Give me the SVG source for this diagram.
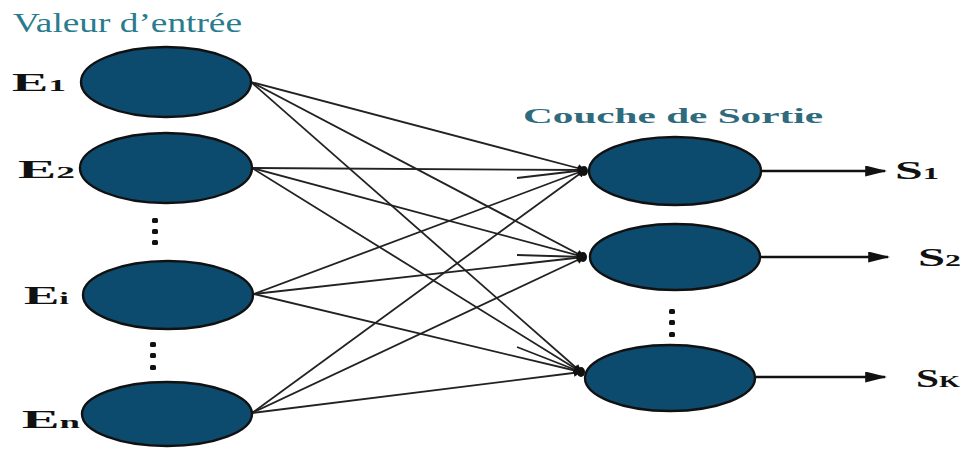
<svg xmlns="http://www.w3.org/2000/svg" width="979" height="452" viewBox="0 0 979 452">
  <style>
    .neuron { fill: #0d4b6e; stroke: #111; stroke-width: 2.4; }
    .link { stroke: #222; stroke-width: 1.8; fill: none; marker-end: url(#tip); }
    .out { stroke: #111; stroke-width: 2.4; fill: none; marker-end: url(#arrow); }
    .lbl { font-family: "Liberation Serif", "Times New Roman", serif; font-weight: bold; fill: #111; font-size: 26px; }
    .sub { font-size: 17px; }
    .dot { fill: #111; }
    .knot { fill: #111; }
  </style>
  <defs>
    <marker id="tip" viewBox="0 0 10 10" refX="9" refY="5" markerWidth="9" markerHeight="8" markerUnits="userSpaceOnUse" orient="auto">
      <path d="M0,0 L10,5 L0,10 z" fill="#111"/>
    </marker>
    <marker id="arrow" viewBox="0 0 10 10" refX="9" refY="5" markerWidth="22" markerHeight="11" markerUnits="userSpaceOnUse" orient="auto" preserveAspectRatio="none">
      <path d="M0,0 L10,5 L0,10 z" fill="#111"/>
    </marker>
  </defs>

  <rect width="979" height="452" fill="#fff"/>

  <!-- layer titles -->
  <text x="13" y="32" style="font-family:'Liberation Serif','Times New Roman',serif;font-size:27px;fill:#2a7b8e" textLength="229" lengthAdjust="spacingAndGlyphs">Valeur d’entrée</text>
  <text x="523" y="123" style="font-family:'Liberation Serif','Times New Roman',serif;font-size:20px;font-weight:bold;fill:#2f6b7d" textLength="300" lengthAdjust="spacingAndGlyphs">Couche de Sortie</text>

  <!-- weighted links between the layers -->
  <g id="connectors">
    <line class="link" x1="251" y1="82" x2="585" y2="170"/>
    <line class="link" x1="251" y1="82" x2="584" y2="257"/>
    <line class="link" x1="251" y1="82" x2="581" y2="372"/>
    <line class="link" x1="252" y1="168" x2="585" y2="170"/>
    <line class="link" x1="252" y1="168" x2="584" y2="257"/>
    <line class="link" x1="252" y1="168" x2="581" y2="372"/>
    <line class="link" x1="254" y1="294" x2="585" y2="170"/>
    <line class="link" x1="254" y1="294" x2="584" y2="257"/>
    <line class="link" x1="254" y1="294" x2="581" y2="372"/>
    <line class="link" x1="252" y1="413" x2="585" y2="170"/>
    <line class="link" x1="252" y1="413" x2="584" y2="257"/>
    <line class="link" x1="252" y1="413" x2="581" y2="372"/>
    <line class="link" x1="517" y1="178" x2="585" y2="170"/>
    <line class="link" x1="517" y1="255" x2="584" y2="257"/>
    <line class="link" x1="517" y1="347" x2="581" y2="372"/>
    <!-- converging arrowheads -->
    <ellipse class="knot" cx="584" cy="171" rx="4" ry="5"/>
    <ellipse class="knot" cx="583" cy="257" rx="4" ry="5"/>
    <ellipse class="knot" cx="581" cy="372" rx="4" ry="5"/>
    <!-- outputs -->
    <line class="out" x1="761" y1="171" x2="885" y2="171"/>
    <line class="out" x1="760" y1="257" x2="888" y2="257"/>
    <line class="out" x1="755" y1="377" x2="885" y2="377"/>
  </g>

  <!-- input neurons -->
  <g id="E1">
    <ellipse class="neuron" cx="166" cy="82" rx="85" ry="35"/>
    <text class="lbl" x="12" y="91" textLength="54" lengthAdjust="spacingAndGlyphs">E<tspan class="sub">1</tspan></text>
  </g>
  <g id="E2">
    <ellipse class="neuron" cx="166" cy="168" rx="86" ry="35"/>
    <text class="lbl" x="18" y="178" textLength="57" lengthAdjust="spacingAndGlyphs">E<tspan class="sub">2</tspan></text>
  </g>
  <g id="Ei">
    <ellipse class="neuron" cx="168" cy="295" rx="85" ry="34"/>
    <text class="lbl" x="24" y="304" textLength="45" lengthAdjust="spacingAndGlyphs">E<tspan class="sub">i</tspan></text>
  </g>
  <g id="En">
    <ellipse class="neuron" cx="167" cy="414" rx="85" ry="32"/>
    <text class="lbl" x="22" y="428" textLength="58" lengthAdjust="spacingAndGlyphs">E<tspan class="sub">n</tspan></text>
  </g>

  <!-- output neurons -->
  <g id="S1">
    <ellipse class="neuron" cx="675" cy="171" rx="86" ry="34"/>
    <text class="lbl" x="895" y="179" textLength="44" lengthAdjust="spacingAndGlyphs">S<tspan class="sub">1</tspan></text>
  </g>
  <g id="S2">
    <ellipse class="neuron" cx="675" cy="257" rx="85" ry="33"/>
    <text class="lbl" x="918" y="266" textLength="43" lengthAdjust="spacingAndGlyphs">S<tspan class="sub">2</tspan></text>
  </g>
  <g id="Sk">
    <ellipse class="neuron" cx="670" cy="378" rx="85" ry="33"/>
    <text class="lbl" x="916" y="387" textLength="44" lengthAdjust="spacingAndGlyphs">S<tspan class="sub">K</tspan></text>
  </g>

  <!-- ellipsis marks -->
  <g id="ellipses">
    <rect class="dot" x="152" y="218" width="6" height="5" rx="1.5"/>
    <rect class="dot" x="152" y="229" width="6" height="5" rx="1.5"/>
    <rect class="dot" x="152" y="240" width="6" height="5" rx="1.5"/>
    <rect class="dot" x="150" y="342" width="6" height="5" rx="1.5"/>
    <rect class="dot" x="150" y="353" width="6" height="5" rx="1.5"/>
    <rect class="dot" x="150" y="365" width="6" height="5" rx="1.5"/>
    <rect class="dot" x="669" y="309" width="6" height="5" rx="1.5"/>
    <rect class="dot" x="669" y="320" width="6" height="5" rx="1.5"/>
    <rect class="dot" x="669" y="332" width="6" height="5" rx="1.5"/>
  </g>
</svg>
